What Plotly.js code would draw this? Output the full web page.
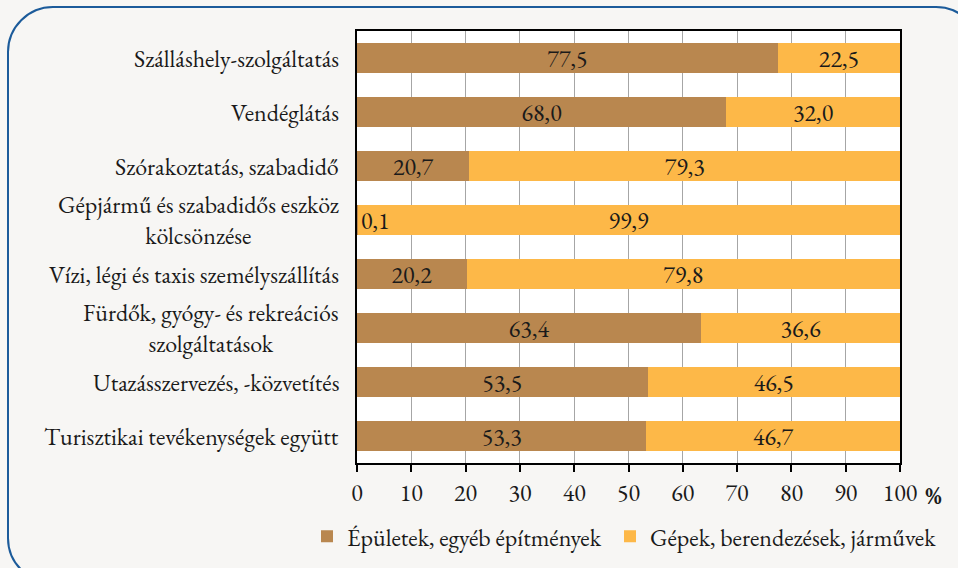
<!DOCTYPE html>
<html>
<head>
<meta charset="utf-8">
<script src="https://cdn.plot.ly/plotly-3.0.1.min.js"></script>
<style>
html,body{margin:0;padding:0;background:#f7f6f4;overflow:hidden;}
#frame{position:absolute;left:7px;top:6px;width:975px;height:578px;border:2.5px solid #1c5b9a;border-radius:46px;box-sizing:border-box;}
#chart{position:absolute;left:0;top:0;width:958px;height:568px;}
</style>
</head>
<body>
<div id="frame"></div>
<div id="chart"></div>
<script>
const categories = [
  "Szálláshely-szolgáltatás",
  "Vendéglátás",
  "Szórakoztatás, szabadidő",
  "Gépjármű és szabadidős eszköz<br>kölcsönzése",
  "Vízi, légi és taxis személyszállítás",
  "Fürdők, gyógy- és rekreációs<br>szolgáltatások",
  "Utazásszervezés, -közvetítés",
  "Turisztikai tevékenységek együtt"
];
const buildings = [77.5, 68.0, 20.7, 0.1, 20.2, 63.4, 53.5, 53.3];
const machines  = [22.5, 32.0, 79.3, 99.9, 79.8, 36.6, 46.5, 46.7];
const seriesNames = ["Épületek, egyéb építmények", "Gépek, berendezések, járművek"];
const xTicks = [0,10,20,30,40,50,60,70,80,90,100];

const FONT = "EB Garamond";
const FS = 24;
const TXT = "#1a1a1a";
const brown = "#b9874f", orange = "#fdb848";

const fmt = v => v.toFixed(1).replace(".", ",");

function draw(){
  const smallIdx = buildings.map((v,i)=> v < 5 ? i : -1).filter(i=>i>=0);

  const traces = [
    {
      type:"bar", orientation:"h", name:seriesNames[0], legend:"legend",
      y:categories, x:buildings,
      marker:{color:brown},
      text:buildings.map((v,i)=> smallIdx.includes(i) ? "" : fmt(v)),
      textposition:"inside", insidetextanchor:"middle", constraintext:"none",
      textfont:{family:FONT, size:FS, color:TXT},
      hoverinfo:"x"
    },
    {
      type:"bar", orientation:"h", name:seriesNames[1], legend:"legend2",
      y:categories, x:machines,
      marker:{color:orange},
      text:machines.map(fmt),
      textposition:"inside", insidetextanchor:"middle", constraintext:"none",
      textfont:{family:FONT, size:FS, color:TXT},
      hoverinfo:"x"
    }
  ];

  const annotations = [];
  categories.forEach((c,i)=>{
    annotations.push({
      xref:"paper", yref:"y", x:0, y:c, xanchor:"right", yanchor:"middle",
      xshift:-16, text:c, showarrow:false, align:"center",
      font:{family:FONT, size:FS, color:TXT}
    });
  });
  smallIdx.forEach(i=>{
    annotations.push({
      xref:"x", yref:"y", x:buildings[i], y:categories[i], xanchor:"left", yanchor:"middle",
      xshift:1, text:fmt(buildings[i]), showarrow:false,
      font:{family:FONT, size:FS, color:TXT}
    });
  });
  annotations.push({
    xref:"paper", yref:"paper", x:1, y:0, xanchor:"left", yanchor:"top",
    xshift:23, yshift:-15, text:"<b>%</b>", showarrow:false,
    font:{family:FONT, size:FS, color:TXT}
  });

  const legBase = {orientation:"h", xref:"container", yref:"container",
          xanchor:"left", y:0.055, yanchor:"middle",
          font:{family:FONT, size:FS, color:TXT},
          itemwidth:30, bgcolor:"rgba(0,0,0,0)"};

  const layout = {
    width:958, height:568,
    paper_bgcolor:"rgba(0,0,0,0)", plot_bgcolor:"#ffffff",
    margin:{l:357, r:58, t:31, b:105, autoexpand:false},
    barmode:"stack", bargap:0.44,
    showlegend:true,
    legend:Object.assign({}, legBase, {x:307/958}),
    legend2:Object.assign({}, legBase, {x:610/958}),
    xaxis:{range:[0,100], tickvals:xTicks, ticktext:xTicks.map(String),
           showgrid:true, gridcolor:"#a6a6a6", gridwidth:1,
           showline:true, linecolor:"#000", linewidth:2, mirror:true,
           ticks:"outside", ticklen:7, tickcolor:"#000", tickwidth:1.5,
           tickfont:{family:FONT, size:FS, color:TXT}, zeroline:false, fixedrange:true},
    yaxis:{type:"category", autorange:"reversed", showticklabels:false,
           showgrid:false, showline:true, linecolor:"#000", linewidth:2, mirror:true,
           ticks:"", zeroline:false, fixedrange:true},
    annotations:annotations
  };

  Plotly.newPlot("chart", traces, layout, {displayModeBar:false});
}

if (document.fonts && document.fonts.load) {
  document.fonts.load(FS + 'px "' + FONT + '"').then(draw, draw);
} else { draw(); }
</script>
</body>
</html>
